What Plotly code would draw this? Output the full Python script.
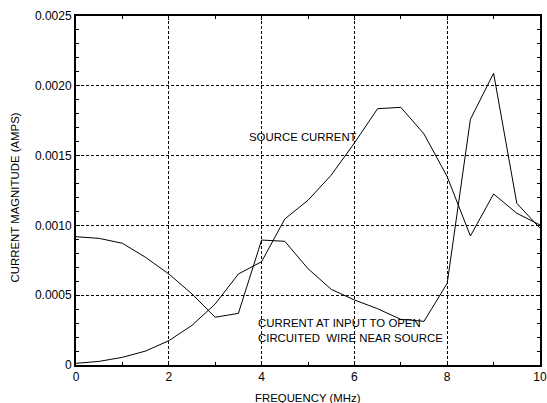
import plotly.graph_objects as go

freq = [0, 0.5, 1, 1.5, 2, 2.5, 3, 3.5, 4, 4.5, 5, 5.5, 6, 6.5, 7, 7.5, 8, 8.5, 9, 9.5, 10]
wire_current = [0.000919, 0.000907, 0.000872, 0.000771, 0.000652, 0.000509, 0.000342, 0.000370,
                0.000895, 0.000886, 0.000690, 0.000542, 0.000466, 0.000403, 0.000327, 0.000313,
                0.000585, 0.001760, 0.002090, 0.001158, 0.000980]
source_current = [0.000012, 0.000026, 0.000055, 0.000100, 0.000174, 0.000284, 0.000437, 0.000652,
                  0.000740, 0.001046, 0.001180, 0.001360, 0.001590, 0.001836, 0.001846, 0.001655,
                  0.001349, 0.000924, 0.001225, 0.001087, 0.001003]

x_ticks = [0, 2, 4, 6, 8, 10]
x_tick_labels = ["0", "2", "4", "6", "8", "10"]
y_ticks = [0, 0.0005, 0.0010, 0.0015, 0.0020, 0.0025]
y_tick_labels = ["0", "0.0005", "0.0010", "0.0015", "0.0020", "0.0025"]

FONT = "Liberation Sans, Arial, Helvetica, sans-serif"

fig = go.Figure()
fig.add_trace(go.Scatter(x=freq, y=wire_current, mode="lines",
                         line=dict(color="black", width=1), showlegend=False))
fig.add_trace(go.Scatter(x=freq, y=source_current, mode="lines",
                         line=dict(color="black", width=1), showlegend=False))

axis_common = dict(
    showline=True, linecolor="black", linewidth=2, mirror="ticks",
    ticks="inside", ticklen=4, tickcolor="black", tickwidth=1,
    showgrid=True, gridcolor="black", gridwidth=1, griddash="3px,2px",
    zeroline=False, automargin=False,
    tickfont=dict(family=FONT, size=12, color="black"),
)

fig.update_xaxes(range=[0, 10], tickvals=x_ticks, ticktext=x_tick_labels,
                 minor=dict(dtick=1, tick0=0, ticks="inside", ticklen=3,
                            tickcolor="black", showgrid=False),
                 **axis_common)
fig.update_yaxes(range=[0, 0.0025], tickvals=y_ticks, ticktext=y_tick_labels,
                 minor=dict(dtick=0.0001, tick0=0, ticks="inside", ticklen=3,
                            tickcolor="black", showgrid=False),
                 **axis_common)

fig.add_annotation(x=3.68, y=0.00163, text="SOURCE CURRENT", showarrow=False,
                   xanchor="left", yanchor="middle",
                   font=dict(family=FONT, size=11.4, color="black"))
fig.add_annotation(x=3.88, y=0.000245, text="CURRENT AT INPUT TO OPEN<br>CIRCUITED  WIRE NEAR SOURCE",
                   showarrow=False, xanchor="left", yanchor="middle", align="left",
                   font=dict(family=FONT, size=11.4, color="black"))

fig.add_annotation(x=0.5, y=0, xref="paper", yref="paper", text="FREQUENCY (MHz)",
                   showarrow=False, xanchor="center", yanchor="middle", yshift=-33,
                   font=dict(family=FONT, size=11.4, color="black"))
fig.add_annotation(x=0, y=0.48, xref="paper", yref="paper", text="CURRENT MAGNITUDE (AMPS)",
                   showarrow=False, textangle=-90, xanchor="center", yanchor="middle", xshift=-61,
                   font=dict(family=FONT, size=11.4, color="black"))

fig.update_layout(
    width=547, height=403,
    margin=dict(l=76, r=7, t=16, b=38),
    paper_bgcolor="white", plot_bgcolor="white",
)

# remove the default 8px page margin so the figure fills the window exactly
fig.write_html(
    "out.html",
    config={"displayModeBar": False},
    post_script="document.body.style.margin='0';document.documentElement.style.overflow='hidden';document.body.style.overflow='hidden';",
)
